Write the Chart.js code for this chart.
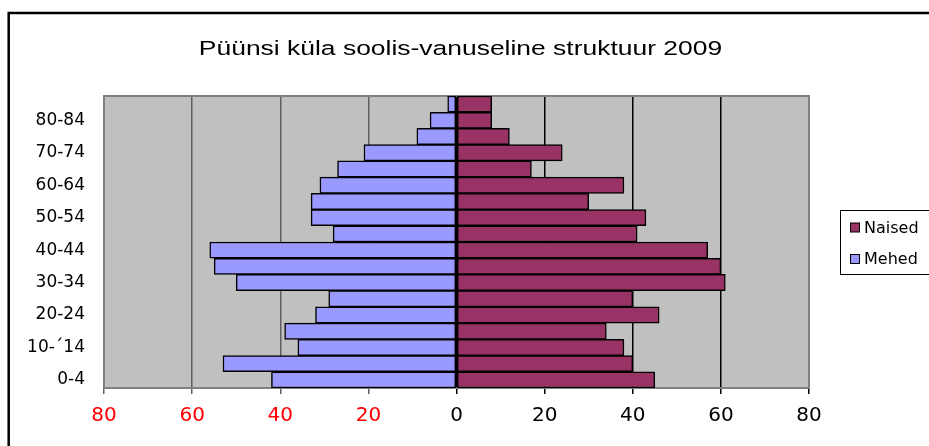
<!DOCTYPE html>
<html>
<head>
<meta charset="utf-8">
<title>Püünsi küla soolis-vanuseline struktuur 2009</title>
<script src="https://cdn.jsdelivr.net/npm/chart.js@4"></script>
<style>
  html, body { margin: 0; padding: 0; background: #ffffff; }
  canvas { display: block; }
</style>
</head>
<body>
<canvas id="pyramidChart" width="929" height="446"></canvas>
<script>
const chartTitle = "Püünsi küla soolis-vanuseline struktuur 2009";

// age groups, bottom to top
const ageGroups = ["0-4", "5-9", "10-´14", "15-19", "20-24", "25-29", "30-34", "35-39", "40-44",
  "45-49", "50-54", "55-59", "60-64", "65-69", "70-74", "75-79", "80-84", "85+"];
const shownAgeLabels = ["0-4", "10-´14", "20-24", "30-34", "40-44", "50-54", "60-64", "70-74", "80-84"];

const mehedValues = [42, 53, 36, 39, 32, 29, 50, 55, 56, 28, 33, 33, 31, 27, 21, 9, 6, 2];
const naisedValues = [45, 40, 38, 34, 46, 40, 61, 60, 57, 41, 43, 30, 38, 17, 24, 12, 8, 8];

const xTickValues = [-80, -60, -40, -20, 0, 20, 40, 60, 80];

const seriesNames = ["Naised", "Mehed"];
const seriesColors = { Naised: "#993366", Mehed: "#9999FF" };

document.addEventListener("DOMContentLoaded", function () {
  drawPyramid();
});

const chartDecorations = {
  id: "chartDecorations",
  beforeDraw(chart) {
    const ctx = chart.ctx;
    const area = chart.chartArea;
    ctx.save();
    // outer frame (only top and left visible)
    ctx.strokeStyle = "#000000";
    ctx.lineWidth = 2.5;
    ctx.strokeRect(8.7, 13, 1000, 1000);
    // plot background
    ctx.fillStyle = "#C0C0C0";
    ctx.fillRect(area.left, area.top, area.right - area.left, area.bottom - area.top);
    // title, a bit wider than plain Arial like the original
    ctx.fillStyle = "#000000";
    ctx.font = "20.5px 'Liberation Sans', Arial, sans-serif";
    ctx.textAlign = "center";
    ctx.textBaseline = "alphabetic";
    ctx.translate(460.5, 55.3);
    ctx.scale(1.29, 1);
    ctx.fillText(chartTitle, 0, 0);
    ctx.restore();
  },
  beforeDatasetsDraw(chart) {
    const ctx = chart.ctx;
    const area = chart.chartArea;
    ctx.save();
    ctx.strokeStyle = "#808080";
    ctx.lineWidth = 2;
    ctx.strokeRect(area.left, area.top, area.right - area.left, area.bottom - area.top);
    ctx.restore();
  },
  afterDraw(chart) {
    drawLegend(chart.ctx);
  }
};

function drawLegend(ctx) {
  ctx.save();
  ctx.fillStyle = "#ffffff";
  ctx.fillRect(840.5, 210.5, 100, 64);
  ctx.strokeStyle = "#000000";
  ctx.lineWidth = 1;
  ctx.strokeRect(840.5, 210.5, 100, 64);
  ctx.font = "16px 'DejaVu Sans', sans-serif";
  ctx.textBaseline = "middle";
  ctx.textAlign = "left";
  const rowY = [227.5, 259];
  seriesNames.forEach((name, i) => {
    ctx.fillStyle = seriesColors[name];
    ctx.fillRect(850.5, rowY[i] - 4.5, 9, 9);
    ctx.strokeStyle = "#000000";
    ctx.strokeRect(850.5, rowY[i] - 4.5, 9, 9);
    ctx.fillStyle = "#000000";
    ctx.fillText(name, 864, rowY[i] + 1);
  });
  ctx.restore();
}

function drawPyramid() {
  const ctx = document.getElementById("pyramidChart").getContext("2d");

  new Chart(ctx, {
    type: "bar",
    data: {
      labels: ageGroups,
      datasets: [
        {
          label: "Mehed",
          data: mehedValues.map(v => -v),
          backgroundColor: seriesColors.Mehed,
          borderColor: "#000000",
          borderWidth: 1.5,
          borderSkipped: false,
          barPercentage: 1,
          categoryPercentage: 1
        },
        {
          label: "Naised",
          data: naisedValues,
          backgroundColor: seriesColors.Naised,
          borderColor: "#000000",
          borderWidth: 1.5,
          borderSkipped: false,
          barPercentage: 1,
          categoryPercentage: 1
        }
      ]
    },
    options: {
      indexAxis: "y",
      responsive: false,
      animation: false,
      layout: {
        padding: { top: 96, right: 120, left: 0, bottom: 0 }
      },
      plugins: {
        legend: { display: false },
        title: { display: false },
        tooltip: { enabled: false }
      },
      scales: {
        x: {
          stacked: true,
          min: -80,
          max: 80,
          afterBuildTicks: scale => {
            scale.ticks = xTickValues.map(v => ({ value: v }));
          },
          afterFit: scale => {
            scale.height = 58;
          },
          border: { display: false },
          grid: {
            color: c => (c.tick && c.tick.value < 0 ? "#606060" : "#000000"),
            lineWidth: 1.5,
            tickLength: 6
          },
          ticks: {
            padding: 10,
            font: { family: "'DejaVu Sans', sans-serif", size: 20 },
            color: c => (c.tick.value < 0 ? "#FF0000" : "#000000"),
            callback: value => Math.abs(value)
          }
        },
        y: {
          stacked: true,
          reverse: true,
          afterFit: scale => {
            scale.width = 104;
          },
          border: { display: false },
          grid: { display: false, drawTicks: false },
          ticks: {
            autoSkip: false,
            padding: 19,
            color: "#000000",
            font: { family: "'DejaVu Sans', sans-serif", size: 17 },
            callback: function (value) {
              const label = this.getLabelForValue(value);
              return shownAgeLabels.includes(label) ? label : "";
            }
          }
        }
      }
    },
    plugins: [chartDecorations]
  });
}
</script>
</body>
</html>
